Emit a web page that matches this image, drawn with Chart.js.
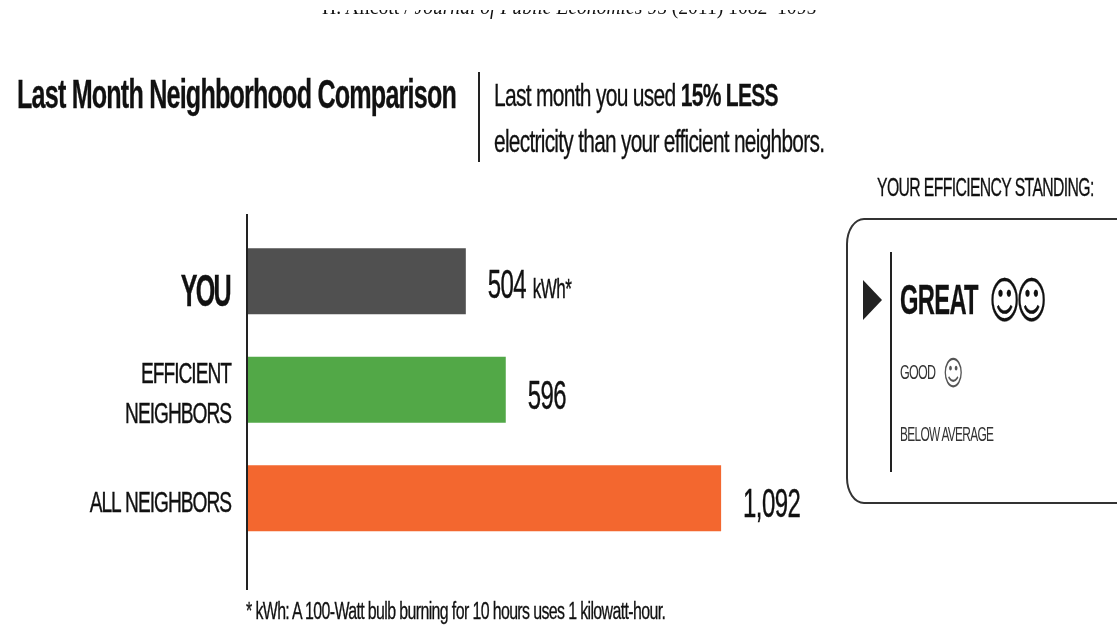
<!DOCTYPE html>
<html><head><meta charset="utf-8">
<script src="https://cdn.jsdelivr.net/npm/chart.js@4"></script>
<style>
html,body{margin:0;padding:0;background:#fff;width:1117px;height:626px;overflow:hidden}
#wrap{position:relative;width:1117px;height:626px;filter:blur(.5px);font-family:"Liberation Sans",Arial,sans-serif;color:#111;overflow:hidden}
canvas{position:absolute;left:0;top:0}
.t{position:absolute;white-space:nowrap;transform-origin:0 0;-webkit-text-stroke:.3px currentColor}
.line{position:absolute;background:#222}
#clip{position:absolute;left:0;top:10px;width:1117px;height:10px;overflow:hidden}
</style></head><body>
<div id="wrap">
<canvas id="c" width="1117" height="626"></canvas>
<div id="clip"><div class="t" data-w="494" style="left:322px;top:-16px;font:22px 'Liberation Serif';-webkit-text-stroke:0">H. Allcott / <i>Journal of Public Economics</i> 95 (2011) 1082–1095</div></div>
<div class="t" data-w="439" style="left:17px;top:72px;font:bold 40px 'Liberation Sans';letter-spacing:-1.3px">Last Month Neighborhood Comparison</div>
<div class="line" style="left:478px;top:72px;width:2px;height:90px"></div>
<div class="t" data-w="284" style="left:494px;top:77px;font:32px 'Liberation Sans';letter-spacing:-1.1px">Last month you used <b>15% LESS</b></div>
<div class="t" data-w="330" style="left:494px;top:123px;font:32px 'Liberation Sans';letter-spacing:-1.1px">electricity than your efficient neighbors.</div>
<div class="t" data-w="217" style="left:877px;top:173px;font:25px 'Liberation Sans';letter-spacing:-1px">YOUR EFFICIENCY STANDING:</div>
<div style="position:absolute;left:846px;top:218px;width:290px;height:282px;border:2px solid #333;border-radius:18px/26px"></div>
<div class="line" style="left:890px;top:252px;width:2px;height:220px"></div>
<div style="position:absolute;left:863px;top:280px;width:0;height:0;border-left:19px solid #222;border-top:20px solid transparent;border-bottom:20px solid transparent"></div>
<div class="t" data-w="78" style="left:900px;top:275px;font:bold 43px 'Liberation Sans';letter-spacing:-1.3px">GREAT</div>
<div class="t" style="left:989px;top:272px;font:50px 'DejaVu Sans';transform:scaleX(.6)">☺</div>
<div class="t" style="left:1016px;top:272px;font:50px 'DejaVu Sans';transform:scaleX(.6)">☺</div>
<div class="t" data-w="35" style="left:900px;top:361px;font:20px 'Liberation Sans';letter-spacing:-1.2px;color:#333;-webkit-text-stroke:0">GOOD</div>
<div class="t" style="left:942.5px;top:353px;font:34px 'DejaVu Sans';color:#555;transform:scaleX(.58);-webkit-text-stroke:0">☺</div>
<div class="t" data-w="93" style="left:900px;top:423px;font:20px 'Liberation Sans';letter-spacing:-1.2px;color:#333;-webkit-text-stroke:0">BELOW AVERAGE</div>
<div class="t" data-w="419" style="left:246px;top:598px;font:23px 'Liberation Sans';letter-spacing:-.9px">* kWh: A 100-Watt bulb burning for 10 hours uses 1 kilowatt-hour.</div>
</div>
<script>
const categories = ["YOU", ["EFFICIENT","NEIGHBORS"], "ALL NEIGHBORS"];
const usage = [504, 596, 1092];
const valueLabels = ["504", "596", "1,092"];
const unitLabels = ["kWh*", "", ""];
const barColors = ["#505050", "#52a847", "#f3672f"];

document.querySelectorAll('[data-w]').forEach(el=>{
  el.style.transform = `scaleX(${el.dataset.w / el.offsetWidth})`;
});

const sans = "'Liberation Sans'";
function squeezed(ctx, text, x, y, font, sx, align, spacing){
  ctx.save();
  ctx.font = font; ctx.textAlign = align; ctx.textBaseline = 'alphabetic';
  ctx.letterSpacing = spacing + 'px';
  ctx.translate(x, y); ctx.scale(sx, 1);
  ctx.fillText(text, 0, 0);
  ctx.lineWidth = .4; ctx.strokeStyle = ctx.fillStyle;
  ctx.strokeText(text, 0, 0);
  ctx.restore();
}
const extras = {
  id: 'extras',
  afterDatasetsDraw(chart){
    const {ctx, scales:{x, y}} = chart;
    const meta = chart.getDatasetMeta(0);
    const x0 = x.getPixelForValue(0);
    ctx.save();
    ctx.strokeStyle = '#222'; ctx.lineWidth = 2;
    ctx.beginPath(); ctx.moveTo(x0, 214); ctx.lineTo(x0, 590); ctx.stroke();
    ctx.fillStyle = '#111';
    // category labels, placed from the y scale
    categories.forEach((label,i)=>{
      const cy = y.getPixelForValue(i);
      if(i===0){
        squeezed(ctx, label, x0-17, cy+25, `bold 44px ${sans}`, .57, 'right', -3);
      } else if(Array.isArray(label)){
        squeezed(ctx, label[0], x0-16, cy-7, `29px ${sans}`, .66, 'right', -1.5);
        squeezed(ctx, label[1], x0-16, cy+33, `29px ${sans}`, .66, 'right', -1.5);
      } else {
        squeezed(ctx, label, x0-16, cy+14, `29px ${sans}`, .66, 'right', -1.5);
      }
    });
    // value labels, placed from the bars
    meta.data.forEach((bar,i)=>{
      const px = bar.x + 22, py = bar.y + 17 + (i ? 2 : 0);
      squeezed(ctx, valueLabels[i], px, py, `40px ${sans}`, .6, 'left', -1);
      if(unitLabels[i]){
        squeezed(ctx, unitLabels[i], px + 45, py, `28px ${sans}`, .61, 'left', -1);
      }
    });
    ctx.restore();
  }
};
new Chart(document.getElementById('c'), {
  type:'bar',
  data:{labels:categories, datasets:[{data:usage, backgroundColor:barColors, barPercentage:.61, categoryPercentage:1}]},
  options:{
    indexAxis:'y', responsive:false, animation:false,
    layout:{padding:{left:0,right:349,top:227,bottom:73.5}},
    plugins:{legend:{display:false},tooltip:{enabled:false},title:{display:false}},
    scales:{
      x:{min:0,max:1200,display:false},
      y:{
        afterFit(s){s.width=247;},
        grid:{display:false}, border:{display:false},
        ticks:{display:false}
      }
    }
  },
  plugins:[extras]
});
</script>
</body></html>
